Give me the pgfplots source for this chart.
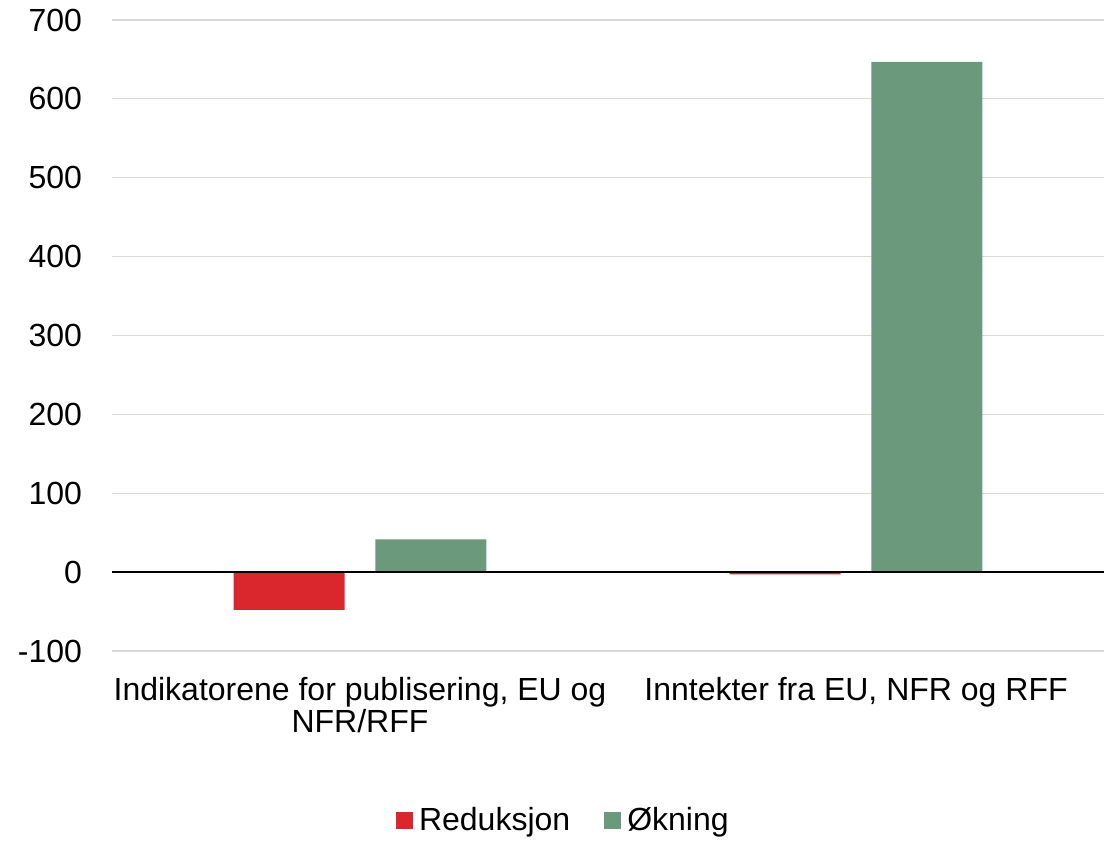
\documentclass[border=0pt]{standalone}
\usepackage{fontspec}
\setmainfont{Liberation Sans}
\usepackage{pgfplots}
\pgfplotsset{compat=1.18}
\definecolor{redbar}{HTML}{DA262D}
\definecolor{greenbar}{HTML}{6A997B}
\definecolor{gridgray}{HTML}{D9D9D9}
\begin{document}
\begin{tikzpicture}
\begin{axis}[
  scale only axis, width=496pt, height=315.5pt,
  xmin=-0.5, xmax=1.5, ymin=-100, ymax=700,
  ytick={-100,0,100,200,300,400,500,600,700},
  xtick={0,1},
  xticklabels={{Indikatorene for publisering, EU og\\NFR/RFF},{Inntekter fra EU, NFR og RFF}},
  axis line style={draw=none},
  major tick length=0pt,
  ymajorgrids, grid style={gridgray, line width=0.6pt},
  /pgf/number format/assume math mode=true,
  tick label style={font=\fontsize{16}{16}\selectfont},
  x tick label style={align=center, anchor=north, yshift=-9.5pt},
  y tick label style={anchor=east, xshift=-11.5pt},
  ybar, bar width=0.224,
  legend columns=2,
  legend style={draw=none, at={(0.456,-0.268)}, anchor=center,
    font=\fontsize{16}{16.5}\selectfont,
    /tikz/every odd column/.append style={column sep=1pt},
    /tikz/every even column/.append style={column sep=15pt}},
  legend image code/.code={\fill[#1] (0pt,-4.25pt) rectangle (8.5pt,4.25pt);},
]
\addplot[fill=redbar, draw=none, bar shift=-0.143] coordinates {(0,-48) (1,-3)};
\addlegendentry{Reduksjon}
\addplot[fill=greenbar, draw=none, bar shift=0.143] coordinates {(0,41.5) (1,647)};
\addlegendentry{Økning}
\draw[black, line width=0.75pt] (axis cs:-0.5,0) -- (axis cs:1.5,0);
\end{axis}
\path ([shift={(-56pt,-92.5pt)}]current axis.south west) rectangle ([shift={(6pt,10pt)}]current axis.north east);
\end{tikzpicture}
\end{document}
